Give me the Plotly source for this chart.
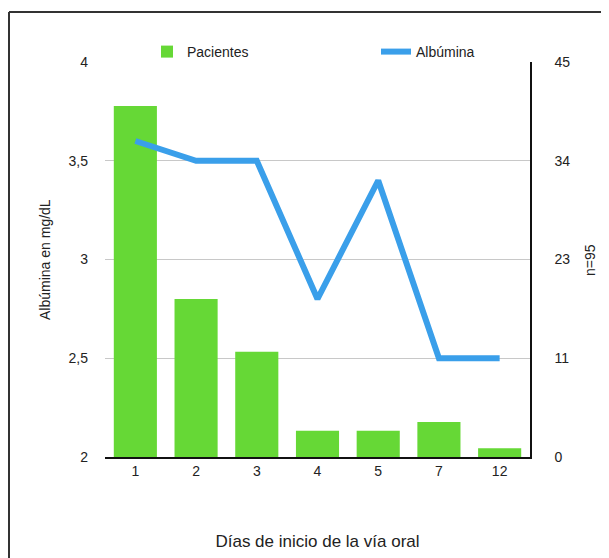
import plotly.graph_objects as go

dias = ["1", "2", "3", "4", "5", "7", "12"]
pacientes = [40, 18, 12, 3, 3, 4, 1]
albumina = [3.6, 3.5, 3.5, 2.8, 3.4, 2.5, 2.5]
right_tickvals = [0, 11.25, 22.5, 33.75, 45]
right_ticktext = ["0", "11", "23", "34", "45"]
left_tickvals = [2, 2.5, 3, 3.5, 4]
left_ticktext = ["2", "2,5", "3", "3,5", "4"]

# page body adds an 8px offset; compensate
OFF = 8
W, H = 609 - OFF, 558 - OFF
L, R, T, B = 105 - OFF, 79, 62 - OFF, 101
pw, ph = W - L - R, H - T - B

def px_x(x):
    return (x - OFF - L) / pw

def px_y(y):
    return 1 + (T - (y - OFF)) / ph

FONT = "Liberation Sans, Arial, Helvetica, sans-serif"
GREEN = "#66d836"
BLUE = "#3a9fea"

fig = go.Figure()
fig.add_trace(go.Bar(
    x=dias, y=pacientes, name="Pacientes", marker_color=GREEN,
    marker_line_width=0, yaxis="y", legend="legend",
))
fig.add_trace(go.Scatter(
    x=dias, y=albumina, name="Albúmina", mode="lines",
    line=dict(color=BLUE, width=6), yaxis="y2", legend="legend2",
))

fig.update_layout(
    width=W, height=H,
    margin=dict(l=L, r=R, t=T, b=B),
    paper_bgcolor="white", plot_bgcolor="white",
    font=dict(family=FONT, size=14, color="#222"),
    bargap=0.29,
    xaxis=dict(
        type="category", showline=True, linecolor="#111", linewidth=1.5,
        showgrid=False, ticks="", tickfont=dict(size=14),
        title=dict(text="Días de inicio de la vía oral", font=dict(size=17), standoff=58),
        automargin=False,
    ),
    yaxis=dict(
        side="right", range=[0, 45], tickvals=right_tickvals, ticktext=right_ticktext,
        showline=True, linecolor="#111", linewidth=1.5,
        showgrid=True, gridcolor="#c8c8c8", gridwidth=1,
        ticks="", ticklabelstandoff=20, zeroline=False, automargin=False,
    ),
    yaxis2=dict(
        overlaying="y", side="left", range=[2, 4],
        tickvals=left_tickvals, ticktext=left_ticktext,
        showline=False, showgrid=False, zeroline=False,
        ticks="", ticklabelstandoff=16, automargin=False,
    ),
    legend=dict(
        orientation="h", x=px_x(147), y=px_y(52), xanchor="left", yanchor="middle",
        font=dict(size=14), bgcolor="rgba(0,0,0,0)",
    ),
    legend2=dict(
        orientation="h", x=px_x(376), y=px_y(52), xanchor="left", yanchor="middle",
        font=dict(size=14), bgcolor="rgba(0,0,0,0)",
    ),
    showlegend=True,
    annotations=[
        dict(text="Albúmina en mg/dL", textangle=-90, xref="paper", yref="paper",
             x=px_x(45), y=px_y(260), showarrow=False, font=dict(size=14),
             xanchor="center", yanchor="middle"),
        dict(text="n=95", textangle=-90, xref="paper", yref="paper",
             x=px_x(590), y=px_y(260), showarrow=False, font=dict(size=14),
             xanchor="center", yanchor="middle"),
    ],
    shapes=[
        dict(type="line", xref="paper", yref="paper", x0=px_x(9), x1=px_x(9),
             y0=px_y(12), y1=px_y(600), line=dict(color="#333", width=2)),
        dict(type="line", xref="paper", yref="paper", x0=px_x(9), x1=px_x(640),
             y0=px_y(12), y1=px_y(12), line=dict(color="#333", width=2)),
    ],
)

fig.write_html("out.html")
